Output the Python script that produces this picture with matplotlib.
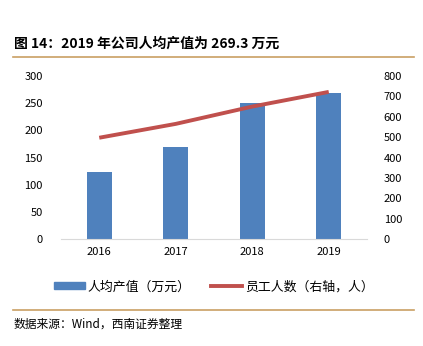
import matplotlib.pyplot as plt
from matplotlib.lines import Line2D
from matplotlib.patches import Patch

plt.rcParams['font.family'] = ['Noto Sans CJK SC', 'DejaVu Sans']

years = ['2016', '2017', '2018', '2019']
output_per_head = [122.5, 169, 251, 269.3]   # 万元, left axis
staff = [497, 565, 650, 722]                 # 人, right axis

bar_color = '#4F81BD'
line_color = '#C0504D'
rule_color = '#C9A063'

W, H = 423, 346
fig = plt.figure(figsize=(W / 100, H / 100), dpi=100)
fig.patch.set_facecolor('white')

ax = fig.add_axes([61 / W, (H - 239) / H, 306 / W, 163 / H])
x = list(range(len(years)))
ax.bar(x, output_per_head, width=0.33, color=bar_color, zorder=2)
ax.set_xlim(-0.5, 3.5)
ax.set_ylim(0, 300)
ax.set_yticks(range(0, 301, 50))
ax.set_xticks(x)
ax.set_xticklabels(years)
for s in ['top', 'right', 'left']:
    ax.spines[s].set_visible(False)
ax.spines['bottom'].set_color('#D9D9D9')
ax.tick_params(length=0, labelsize=8, colors='black')
ax.tick_params(axis='y', pad=13)
ax.tick_params(axis='x', pad=6)

ax2 = ax.twinx()
ax2.plot(x, staff, color=line_color, lw=2.8, solid_capstyle='butt', zorder=3)
ax2.set_ylim(0, 800)
ax2.set_yticks(range(0, 801, 100))
for s in ax2.spines.values():
    s.set_visible(False)
ax2.tick_params(length=0, labelsize=8, pad=12)

handles = [Patch(color=bar_color), Line2D([], [], color=line_color, lw=2.8)]
fig.legend(handles, ['人均产值（万元）', '员工人数（右轴，人）'],
           loc='center', bbox_to_anchor=(214 / W, (H - 287) / H), ncol=2,
           frameon=False, fontsize=9.3, handlelength=2.35, handleheight=0.45,
           columnspacing=1.6, handletextpad=0.25)

fig.text(14 / W, (H - 44) / H, '图 14：2019 年公司人均产值为 269.3 万元',
         fontsize=10, fontweight='bold', va='center', ha='left')
fig.add_artist(Line2D([13 / W, 414 / W], [(H - 57) / H] * 2, color=rule_color, lw=1.2))
fig.add_artist(Line2D([13 / W, 414 / W], [(H - 310) / H] * 2, color=rule_color, lw=1.2))
fig.text(14 / W, (H - 324) / H, '数据来源：Wind，西南证券整理',
         fontsize=8.5, style='italic', va='center', ha='left')

fig.savefig('out.png', dpi=100, facecolor='white')
